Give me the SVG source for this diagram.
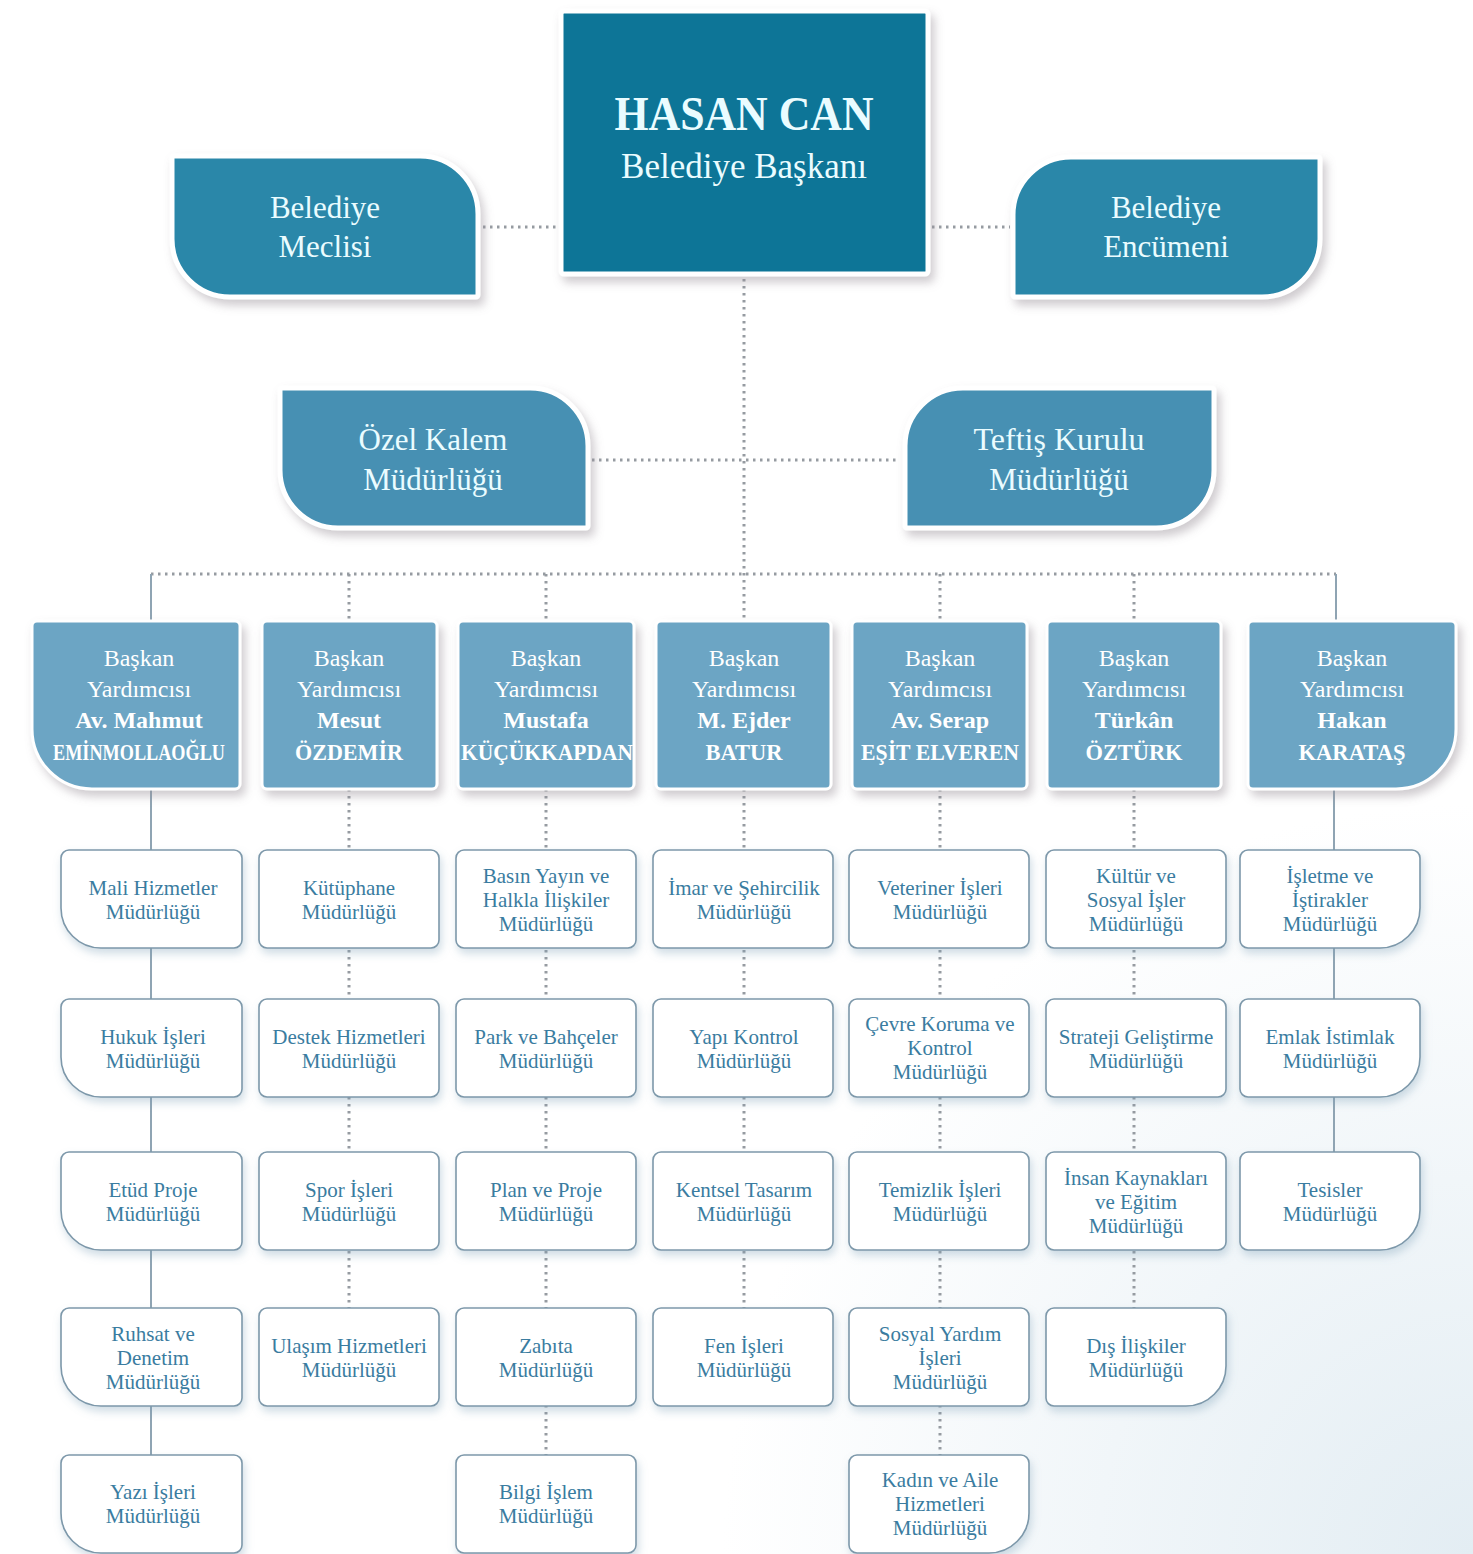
<svg xmlns="http://www.w3.org/2000/svg" xmlns:xlink="http://www.w3.org/1999/xlink" width="1473" height="1554" viewBox="0 0 1473 1554">
<defs>
<radialGradient id="bg" cx="1473" cy="1554" r="750" gradientUnits="userSpaceOnUse">
<stop offset="0" stop-color="#e3edf3"/>
<stop offset="1" stop-color="#ffffff"/>
</radialGradient>
<filter id="shTop" x="-10%" y="-10%" width="130%" height="140%">
<feDropShadow dx="4" dy="6" stdDeviation="5" flood-color="#948c94" flood-opacity="0.45"/>
</filter>
<filter id="shSub" x="-10%" y="-10%" width="130%" height="140%">
<feDropShadow dx="2" dy="5" stdDeviation="4" flood-color="#7a9cb5" flood-opacity="0.35"/>
</filter>
<path id="sbL" d="M8,0 H173 A8,8 0 0 1 181,8 V90 A8,8 0 0 1 173,98 H40 A40,40 0 0 1 0,58 V8 A8,8 0 0 1 8,0 Z"/>
<path id="sbR" d="M8,0 H172 A8,8 0 0 1 180,8 V58 A40,40 0 0 1 140,98 H8 A8,8 0 0 1 0,90 V8 A8,8 0 0 1 8,0 Z"/>
<rect id="sbP" x="0" y="0" width="180" height="98" rx="8"/>
</defs>
<style>
.top{stroke:#ffffff;stroke-width:5;filter:url(#shTop)}
.main{fill:#0b7597}
.lvl1{fill:#2b87a9}
.lvl2{fill:#4690b3}
.dep{fill:#6ca5c4;stroke:#ffffff;stroke-width:3;filter:url(#shTop)}
.sb{fill:#ffffff;stroke:#7d98aa;stroke-width:1.6;filter:url(#shSub)}
.tt{font-family:"Liberation Serif","DejaVu Serif",serif;fill:#eafcff;text-anchor:middle}
.dt{font-family:"Liberation Serif","DejaVu Serif",serif;fill:#ffffff;text-anchor:middle;font-size:24px}
.st{font-family:"Liberation Serif","DejaVu Serif",serif;fill:#3a7ca0;text-anchor:middle;font-size:21px}
.dot{stroke:#969ba1;stroke-width:3;stroke-dasharray:2.5 4.5;fill:none}
.solid{stroke:#8fa4b3;stroke-width:2;fill:none}
</style>
<rect x="0" y="0" width="1473" height="1554" fill="url(#bg)"/>

<g id="connectors">
<line class="dot" x1="483" y1="227" x2="557" y2="227"/>
<line class="dot" x1="932" y1="227" x2="1010" y2="227"/>
<line class="dot" x1="744" y1="279" x2="744" y2="620"/>
<line class="dot" x1="592" y1="460" x2="900" y2="460"/>
<line class="dot" x1="151" y1="574" x2="1336" y2="574"/>
<line class="solid" x1="151" y1="574" x2="151" y2="621"/>
<line class="dot" x1="349" y1="574" x2="349" y2="621"/>
<line class="dot" x1="546" y1="574" x2="546" y2="621"/>
<line class="dot" x1="940" y1="574" x2="940" y2="621"/>
<line class="dot" x1="1134" y1="574" x2="1134" y2="621"/>
<line class="solid" x1="1336" y1="574" x2="1336" y2="621"/>
<line class="solid" x1="151" y1="789" x2="151" y2="1456"/>
<line class="dot" x1="349" y1="789" x2="349" y2="1308"/>
<line class="dot" x1="546" y1="789" x2="546" y2="1456"/>
<line class="dot" x1="744" y1="789" x2="744" y2="1308"/>
<line class="dot" x1="940" y1="789" x2="940" y2="1456"/>
<line class="dot" x1="1134" y1="789" x2="1134" y2="1308"/>
<line class="solid" x1="1334" y1="789" x2="1334" y2="1152"/>
</g>

<g id="mayor">
<rect class="top main" x="561" y="11" width="367" height="263" rx="3"/>
<text class="tt" x="744" y="130" font-size="48" font-weight="bold" textLength="259" lengthAdjust="spacingAndGlyphs">HASAN CAN</text>
<text class="tt" x="744" y="178" font-size="35">Belediye Başkanı</text>
</g>

<g id="meclis">
<path class="top lvl1" d="M174,156 H420 A58,58 0 0 1 478,214 V295 A2,2 0 0 1 476,297 H230 A58,58 0 0 1 172,239 V158 A2,2 0 0 1 174,156 Z"/>
<text class="tt" x="325" y="218" font-size="31">Belediye</text>
<text class="tt" x="325" y="257" font-size="31">Meclisi</text>
</g>

<g id="encumen">
<path class="top lvl1" d="M1071,157 H1318 A2,2 0 0 1 1320,159 V239 A58,58 0 0 1 1262,297 H1015 A2,2 0 0 1 1013,295 V215 A58,58 0 0 1 1071,157 Z"/>
<text class="tt" x="1166" y="218" font-size="31">Belediye</text>
<text class="tt" x="1166" y="257" font-size="31">Encümeni</text>
</g>

<g id="ozel-kalem">
<path class="top lvl2" d="M282,388 H530 A58,58 0 0 1 588,446 V526 A2,2 0 0 1 586,528 H338 A58,58 0 0 1 280,470 V390 A2,2 0 0 1 282,388 Z"/>
<text class="tt" x="433" y="450" font-size="31">Özel Kalem</text>
<text class="tt" x="433" y="490" font-size="31">Müdürlüğü</text>
</g>

<g id="teftis">
<path class="top lvl2" d="M963,388 H1212 A2,2 0 0 1 1214,390 V470 A58,58 0 0 1 1156,528 H907 A2,2 0 0 1 905,526 V446 A58,58 0 0 1 963,388 Z"/>
<text class="tt" x="1059" y="450" font-size="32">Teftiş Kurulu</text>
<text class="tt" x="1059" y="490" font-size="31">Müdürlüğü</text>
</g>

<g id="dep1">
<path class="dep" d="M37,621 H235 A5,5 0 0 1 240,626 V784 A5,5 0 0 1 235,789 H92 A60,60 0 0 1 32,729 V626 A5,5 0 0 1 37,621 Z"/>
<text class="dt" x="139" y="666">Başkan</text>
<text class="dt" x="139" y="697">Yardımcısı</text>
<text class="dt" x="139" y="728" font-weight="bold">Av. Mahmut</text>
<text class="dt" x="139" y="760" font-weight="bold" textLength="172" lengthAdjust="spacingAndGlyphs">EMİNMOLLAOĞLU</text>
</g>
<g id="dep2">
<rect class="dep" x="262" y="621" width="175" height="168" rx="5"/>
<text class="dt" x="349" y="666">Başkan</text>
<text class="dt" x="349" y="697">Yardımcısı</text>
<text class="dt" x="349" y="728" font-weight="bold">Mesut</text>
<text class="dt" x="349" y="760" font-weight="bold" textLength="108" lengthAdjust="spacingAndGlyphs">ÖZDEMİR</text>
</g>
<g id="dep3">
<rect class="dep" x="458" y="621" width="176" height="168" rx="5"/>
<text class="dt" x="546" y="666">Başkan</text>
<text class="dt" x="546" y="697">Yardımcısı</text>
<text class="dt" x="546" y="728" font-weight="bold">Mustafa</text>
<text class="dt" x="547" y="760" font-weight="bold" textLength="172" lengthAdjust="spacingAndGlyphs">KÜÇÜKKAPDAN</text>
</g>
<g id="dep4">
<rect class="dep" x="656" y="621" width="175" height="168" rx="5"/>
<text class="dt" x="744" y="666">Başkan</text>
<text class="dt" x="744" y="697">Yardımcısı</text>
<text class="dt" x="744" y="728" font-weight="bold">M. Ejder</text>
<text class="dt" x="744" y="760" font-weight="bold" textLength="77" lengthAdjust="spacingAndGlyphs">BATUR</text>
</g>
<g id="dep5">
<rect class="dep" x="852" y="621" width="175" height="168" rx="5"/>
<text class="dt" x="940" y="666">Başkan</text>
<text class="dt" x="940" y="697">Yardımcısı</text>
<text class="dt" x="940" y="728" font-weight="bold">Av. Serap</text>
<text class="dt" x="940" y="760" font-weight="bold" textLength="158" lengthAdjust="spacingAndGlyphs">EŞİT ELVEREN</text>
</g>
<g id="dep6">
<rect class="dep" x="1047" y="621" width="174" height="168" rx="5"/>
<text class="dt" x="1134" y="666">Başkan</text>
<text class="dt" x="1134" y="697">Yardımcısı</text>
<text class="dt" x="1134" y="728" font-weight="bold">Türkân</text>
<text class="dt" x="1134" y="760" font-weight="bold" textLength="97" lengthAdjust="spacingAndGlyphs">ÖZTÜRK</text>
</g>
<g id="dep7">
<path class="dep" d="M1253,621 H1451 A5,5 0 0 1 1456,626 V729 A60,60 0 0 1 1396,789 H1253 A5,5 0 0 1 1248,784 V626 A5,5 0 0 1 1253,621 Z"/>
<text class="dt" x="1352" y="666">Başkan</text>
<text class="dt" x="1352" y="697">Yardımcısı</text>
<text class="dt" x="1352" y="728" font-weight="bold">Hakan</text>
<text class="dt" x="1352" y="760" font-weight="bold" textLength="107" lengthAdjust="spacingAndGlyphs">KARATAŞ</text>
</g>

<g id="mali"><use class="sb" href="#sbL" x="61" y="850"/><text class="st" x="153" y="895">Mali Hizmetler</text><text class="st" x="153" y="919">Müdürlüğü</text></g>
<g id="hukuk"><use class="sb" href="#sbL" x="61" y="999"/><text class="st" x="153" y="1044">Hukuk İşleri</text><text class="st" x="153" y="1068">Müdürlüğü</text></g>
<g id="etud"><use class="sb" href="#sbL" x="61" y="1152"/><text class="st" x="153" y="1197">Etüd Proje</text><text class="st" x="153" y="1221">Müdürlüğü</text></g>
<g id="ruhsat"><use class="sb" href="#sbL" x="61" y="1308"/><text class="st" x="153" y="1341">Ruhsat ve</text><text class="st" x="153" y="1365">Denetim</text><text class="st" x="153" y="1389">Müdürlüğü</text></g>
<g id="yazi"><use class="sb" href="#sbL" x="61" y="1455"/><text class="st" x="153" y="1499">Yazı İşleri</text><text class="st" x="153" y="1523">Müdürlüğü</text></g>

<g id="kutuphane"><use class="sb" href="#sbP" x="259" y="850"/><text class="st" x="349" y="895">Kütüphane</text><text class="st" x="349" y="919">Müdürlüğü</text></g>
<g id="destek"><use class="sb" href="#sbP" x="259" y="999"/><text class="st" x="349" y="1044">Destek Hizmetleri</text><text class="st" x="349" y="1068">Müdürlüğü</text></g>
<g id="spor"><use class="sb" href="#sbP" x="259" y="1152"/><text class="st" x="349" y="1197">Spor İşleri</text><text class="st" x="349" y="1221">Müdürlüğü</text></g>
<g id="ulasim"><use class="sb" href="#sbP" x="259" y="1308"/><text class="st" x="349" y="1353">Ulaşım Hizmetleri</text><text class="st" x="349" y="1377">Müdürlüğü</text></g>

<g id="basin"><use class="sb" href="#sbP" x="456" y="850"/><text class="st" x="546" y="883">Basın Yayın ve</text><text class="st" x="546" y="907">Halkla İlişkiler</text><text class="st" x="546" y="931">Müdürlüğü</text></g>
<g id="park"><use class="sb" href="#sbP" x="456" y="999"/><text class="st" x="546" y="1044">Park ve Bahçeler</text><text class="st" x="546" y="1068">Müdürlüğü</text></g>
<g id="plan"><use class="sb" href="#sbP" x="456" y="1152"/><text class="st" x="546" y="1197">Plan ve Proje</text><text class="st" x="546" y="1221">Müdürlüğü</text></g>
<g id="zabita"><use class="sb" href="#sbP" x="456" y="1308"/><text class="st" x="546" y="1353">Zabıta</text><text class="st" x="546" y="1377">Müdürlüğü</text></g>
<g id="bilgi"><use class="sb" href="#sbP" x="456" y="1455"/><text class="st" x="546" y="1499">Bilgi İşlem</text><text class="st" x="546" y="1523">Müdürlüğü</text></g>

<g id="imar"><use class="sb" href="#sbP" x="653" y="850"/><text class="st" x="744" y="895">İmar ve Şehircilik</text><text class="st" x="744" y="919">Müdürlüğü</text></g>
<g id="yapi"><use class="sb" href="#sbP" x="653" y="999"/><text class="st" x="744" y="1044">Yapı Kontrol</text><text class="st" x="744" y="1068">Müdürlüğü</text></g>
<g id="kentsel"><use class="sb" href="#sbP" x="653" y="1152"/><text class="st" x="744" y="1197">Kentsel Tasarım</text><text class="st" x="744" y="1221">Müdürlüğü</text></g>
<g id="fen"><use class="sb" href="#sbP" x="653" y="1308"/><text class="st" x="744" y="1353">Fen İşleri</text><text class="st" x="744" y="1377">Müdürlüğü</text></g>

<g id="veteriner"><use class="sb" href="#sbP" x="849" y="850"/><text class="st" x="940" y="895">Veteriner İşleri</text><text class="st" x="940" y="919">Müdürlüğü</text></g>
<g id="cevre"><use class="sb" href="#sbP" x="849" y="999"/><text class="st" x="940" y="1031">Çevre Koruma ve</text><text class="st" x="940" y="1055">Kontrol</text><text class="st" x="940" y="1079">Müdürlüğü</text></g>
<g id="temizlik"><use class="sb" href="#sbP" x="849" y="1152"/><text class="st" x="940" y="1197">Temizlik İşleri</text><text class="st" x="940" y="1221">Müdürlüğü</text></g>
<g id="sosyal-yardim"><use class="sb" href="#sbP" x="849" y="1308"/><text class="st" x="940" y="1341">Sosyal Yardım</text><text class="st" x="940" y="1365">İşleri</text><text class="st" x="940" y="1389">Müdürlüğü</text></g>
<g id="kadin"><use class="sb" href="#sbR" x="849" y="1455"/><text class="st" x="940" y="1487">Kadın ve Aile</text><text class="st" x="940" y="1511">Hizmetleri</text><text class="st" x="940" y="1535">Müdürlüğü</text></g>

<g id="kultur"><use class="sb" href="#sbP" x="1046" y="850"/><text class="st" x="1136" y="883">Kültür ve</text><text class="st" x="1136" y="907">Sosyal İşler</text><text class="st" x="1136" y="931">Müdürlüğü</text></g>
<g id="strateji"><use class="sb" href="#sbP" x="1046" y="999"/><text class="st" x="1136" y="1044">Strateji Geliştirme</text><text class="st" x="1136" y="1068">Müdürlüğü</text></g>
<g id="insan"><use class="sb" href="#sbP" x="1046" y="1152"/><text class="st" x="1136" y="1185">İnsan Kaynakları</text><text class="st" x="1136" y="1209">ve Eğitim</text><text class="st" x="1136" y="1233">Müdürlüğü</text></g>
<g id="dis"><use class="sb" href="#sbR" x="1046" y="1308"/><text class="st" x="1136" y="1353">Dış İlişkiler</text><text class="st" x="1136" y="1377">Müdürlüğü</text></g>

<g id="isletme"><use class="sb" href="#sbR" x="1240" y="850"/><text class="st" x="1330" y="883">İşletme ve</text><text class="st" x="1330" y="907">İştirakler</text><text class="st" x="1330" y="931">Müdürlüğü</text></g>
<g id="emlak"><use class="sb" href="#sbR" x="1240" y="999"/><text class="st" x="1330" y="1044">Emlak İstimlak</text><text class="st" x="1330" y="1068">Müdürlüğü</text></g>
<g id="tesisler"><use class="sb" href="#sbR" x="1240" y="1152"/><text class="st" x="1330" y="1197">Tesisler</text><text class="st" x="1330" y="1221">Müdürlüğü</text></g>
</svg>
